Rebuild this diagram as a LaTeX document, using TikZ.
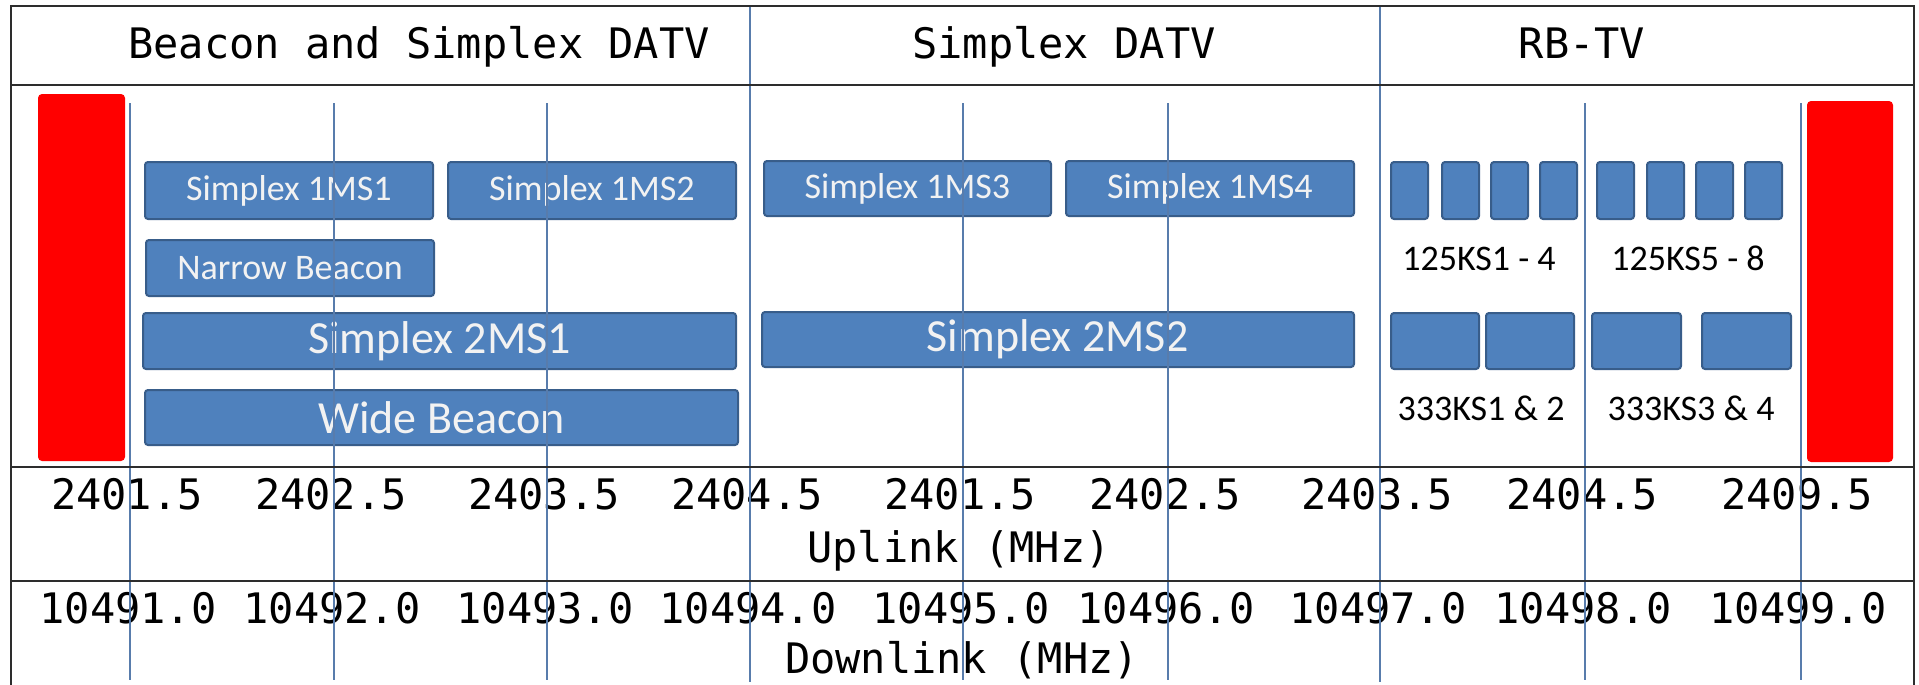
\documentclass[tikz,border=0pt]{standalone}
\usepackage{fontspec}
\setmainfont{Carlito}
\newfontfamily\monofont{DejaVu Sans Mono}
\definecolor{boxblue}{RGB}{79,129,189}
\definecolor{boxedge}{RGB}{56,93,138}
\definecolor{gridblue}{RGB}{88,124,172}
\definecolor{framegray}{RGB}{45,45,45}
\definecolor{barred}{RGB}{255,0,0}
\definecolor{boxtext}{RGB}{242,242,242}
\tikzset{
  chan/.style={draw=boxedge, fill=boxblue, line width=1pt, rounded corners=1.5pt,
    inner sep=0pt, text=boxtext, font=\fontsize{18}{20}\selectfont},
  chanbig/.style={chan, font=\fontsize{23}{26}\selectfont},
  redbar/.style={fill=barred, rounded corners=2pt},
  monolbl/.style={anchor=base, inner sep=0pt, font=\monofont\fontsize{21}{24}\selectfont},
  kslbl/.style={anchor=base, inner sep=0pt, font=\fontsize{18}{20}\selectfont},
  gridline/.style={draw=gridblue, line width=0.7pt},
  frameline/.style={draw=framegray, line width=1.25pt},
  sepline/.style={draw=framegray, line width=1pt}
}
\begin{document}
\begin{tikzpicture}[x=0.5pt,y=-0.5pt]
\useasboundingbox (0,0) rectangle (1919,685);
\fill[white] (0,0) rectangle (1919,685);

% red guard bars
\fill[redbar] (38,94) rectangle (125,461);
\fill[redbar] (1807,101) rectangle (1893,462);

% channel boxes
\node[chan, minimum width=144pt, minimum height=28.5pt] (ms1) at (289,190.5) {Simplex 1MS1};
\node[chan, minimum width=144pt, minimum height=28.5pt] (ms2) at (592,190.5) {Simplex 1MS2};
\node[chan, minimum width=144pt, minimum height=28pt] (nb) at (290,268) {Narrow Beacon};
\node[chanbig, minimum width=296.5pt, minimum height=28pt] (ms21) at (439.5,341) {Simplex 2MS1};
\node[chanbig, minimum width=296.5pt, minimum height=27.5pt] (wb) at (441.5,417.5) {Wide Beacon};
\node[chan, minimum width=143.5pt, minimum height=27.5pt] (ms3) at (907.5,188.5) {Simplex 1MS3};
\node[chan, minimum width=144pt, minimum height=27.5pt] (ms4) at (1210,188.5) {Simplex 1MS4};
\node[chanbig, minimum width=296pt, minimum height=27.5pt] (ms22) at (1058,339.5) {Simplex 2MS2};

\foreach \cx [count=\i] in {1409.5,1460.5,1509.5,1558.5,1615.5,1665.5,1714.5,1763.5}
  \node[chan, minimum width=18.5pt, minimum height=28.5pt] (k\i) at (\cx,190.5) {};
\node[chan, minimum width=44pt, minimum height=28pt] (q1) at (1435,341) {};
\node[chan, minimum width=44pt, minimum height=28pt] (q2) at (1530,341) {};
\node[chan, minimum width=44.5pt, minimum height=28pt] (q3) at (1636.5,341) {};
\node[chan, minimum width=44.5pt, minimum height=28pt] (q4) at (1746.5,341) {};

\node[kslbl] (l125a) at (1479,270) {125KS1 - 4};
\node[kslbl] (l125b) at (1688,270) {125KS5 - 8};
\node[kslbl] (l333a) at (1481,420) {333KS1 \& 2};
\node[kslbl] (l333b) at (1691,420) {333KS3 \& 4};

% titles
\node[monolbl] (t1) at (419,58) {Beacon and Simplex DATV};
\node[monolbl] (t2) at (1064,58) {Simplex DATV};
\node[monolbl] (t3) at (1582,58) {RB-TV};

% uplink labels
\foreach \lx/\txt [count=\i] in {127/2401.5,331/2402.5,544/2403.5,747/2404.5,960/2401.5,1165/2402.5,1377/2403.5,1582/2404.5,1797/2409.5}
  \node[monolbl] (u\i) at (\lx,509) {\txt};
\node[monolbl] (uplink) at (959,562) {Uplink (MHz)};

% downlink labels
\foreach \lx/\txt [count=\i] in {128/10491.0,332/10492.0,545/10493.0,748/10494.0,961/10495.0,1166/10496.0,1378/10497.0,1583/10498.0,1798/10499.0}
  \node[monolbl] (d\i) at (\lx,623) {\txt};
\node[monolbl] (downlink) at (962,673) {Downlink (MHz)};

% frequency grid lines
\foreach \gx in {130,334,547,963,1168,1585,1801}
  \draw[gridline] (\gx,103) -- (\gx,680);
\foreach \gx in {750,1380}
  \draw[gridline] (\gx,6) -- (\gx,682);

% frame and row separators
\draw[frameline] (11,686) -- (11,6) -- (1914,6) -- (1914,686);
\draw[sepline] (11,85) -- (1914,85);
\draw[sepline] (11,467) -- (1914,467);
\draw[sepline] (11,581) -- (1914,581);
\end{tikzpicture}
\end{document}
